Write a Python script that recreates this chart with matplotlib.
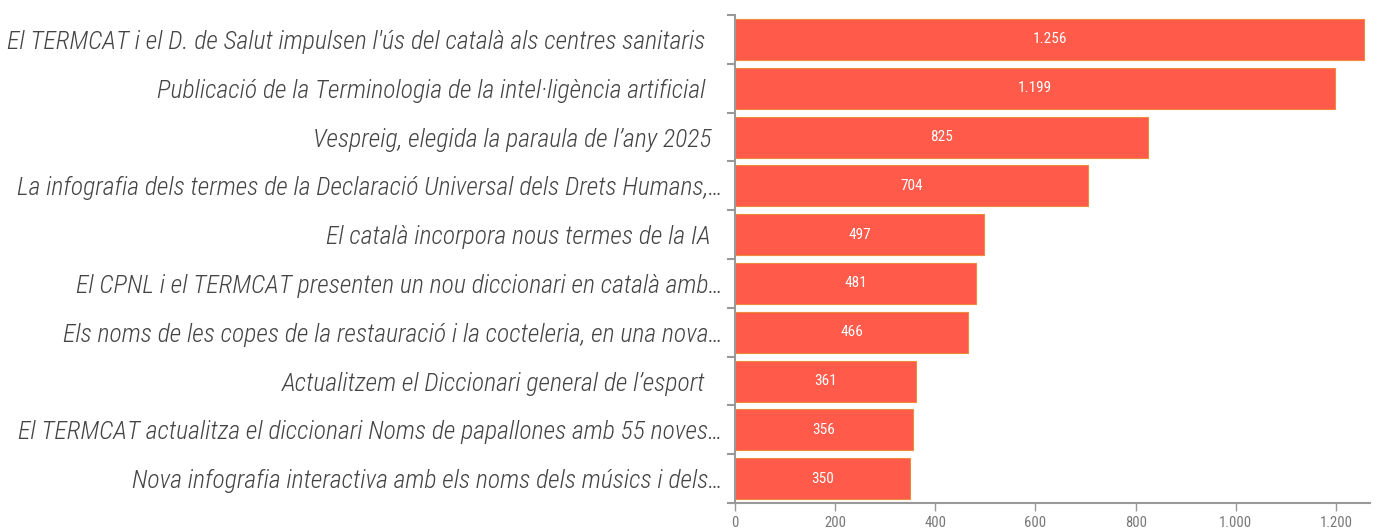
import matplotlib
matplotlib.use("Agg")
import matplotlib.pyplot as plt
import numpy as np

# titles of the news items and their visits
titles = [
    "El TERMCAT i el D. de Salut impulsen l'ús del català als centres sanitaris   ",
    "Publicació de la Terminologia de la intel·ligència artificial   ",
    "Vespreig, elegida la paraula de l’any 2025  ",
    "La infografia dels termes de la Declaració Universal dels Drets Humans,…",
    "El català incorpora nous termes de la IA  ",
    "El CPNL i el TERMCAT presenten un nou diccionari en català amb…",
    "Els noms de les copes de la restauració i la cocteleria, en una nova…",
    "Actualitzem el Diccionari general de l’esport   ",
    "El TERMCAT actualitza el diccionari Noms de papallones amb 55 noves…",
    "Nova infografia interactiva amb els noms dels músics i dels…",
]
visits = [1256, 1199, 825, 704, 497, 481, 466, 361, 356, 350]
xticks = [0, 200, 400, 600, 800, 1000, 1200]
xtick_labels = ["0", "200", "400", "600", "800", "1.000", "1.200"]

fam = ["Roboto Condensed", "Roboto", "DejaVu Sans"]

fig = plt.figure(figsize=(13.79, 5.29), dpi=100)
ax = fig.add_axes([0.533, 0.049, 0.4605, 0.9225])

y = np.arange(len(titles))
bars = ax.barh(y, visits, height=0.84, color="#ff5a4a", edgecolor="#f08a3c", linewidth=0.8)
for b, v in zip(bars, visits):
    ax.text(b.get_width() / 2, b.get_y() + b.get_height() / 2,
            f"{v:,}".replace(",", "."), ha="center", va="center",
            color="white", fontsize=11, family=fam)

ax.set_ylim(len(titles) - 0.5, -0.5)
ax.set_xlim(0, 1268)
ax.set_yticks(y)
ax.set_yticklabels(titles, fontsize=18.5, style="italic", fontweight="light",
                   color="#444444", family=fam)
ax.set_yticks(np.arange(-0.5, len(titles), 1), minor=True)
ax.tick_params(axis="y", which="major", length=0, pad=9)
ax.tick_params(axis="y", which="minor", length=6, color="#999999", width=1.5)
ax.set_xticks(xticks)
ax.set_xticklabels(xtick_labels, fontsize=10.5, color="#777777", family=fam)
ax.tick_params(axis="x", length=6, color="#999999", width=1)

for s in ["top", "right"]:
    ax.spines[s].set_visible(False)
ax.spines["left"].set_color("#999999")
ax.spines["bottom"].set_color("#999999")
ax.spines["left"].set_linewidth(1.5)
ax.spines["bottom"].set_linewidth(1.5)

plt.savefig("out.png", dpi=100)
